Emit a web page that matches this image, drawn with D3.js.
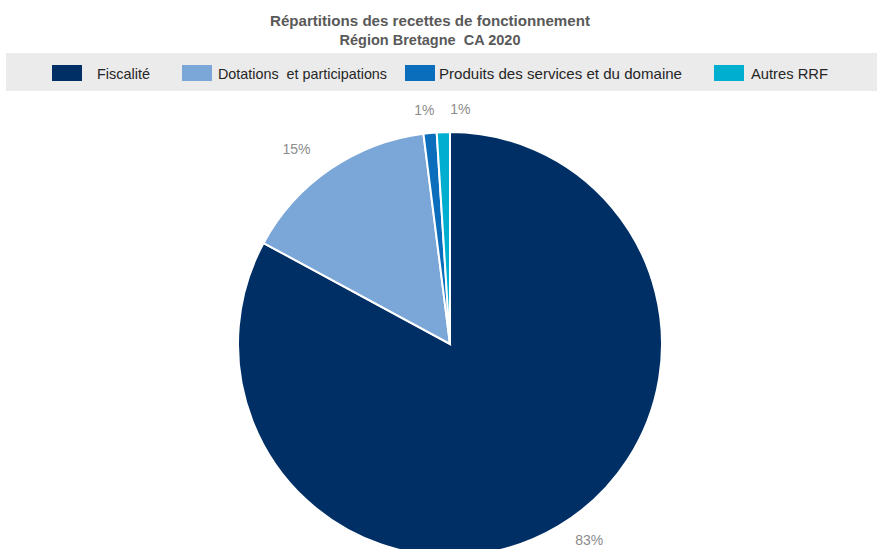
<!DOCTYPE html>
<html><head><meta charset="utf-8">
<script src="https://cdn.jsdelivr.net/npm/d3@7"></script>
<style>
html,body{margin:0;padding:0;background:#fff;}
svg{display:block;}
text{font-family:"Liberation Sans",Arial,sans-serif;}
</style></head>
<body>
<svg id="c" width="877" height="549"></svg>
<script>
const titleLines = ["Répartitions des recettes de fonctionnement", "Région Bretagne  CA 2020"];
const categories = ["Fiscalité", "Dotations  et participations", "Produits des services et du domaine", "Autres RRF"];
const values = [82.9, 15.1, 1.0, 1.0];
const colors = ["#002F66", "#7BA7D8", "#0A6EBD", "#00AFCF"];

const W = 877, H = 549;
const svg = d3.select("#c");

// Title (condensed look via textLength)
const titleW = [320, 181];
svg.append("g").selectAll("text").data(titleLines).join("text")
  .attr("x", 430).attr("y", (d, i) => 26 + i * 19)
  .attr("text-anchor", "middle")
  .attr("font-size", 15).attr("font-weight", "bold")
  .attr("fill", "#595959")
  .attr("textLength", (d, i) => titleW[i]).attr("lengthAdjust", "spacingAndGlyphs")
  .style("white-space", "pre")
  .text(d => d);

// Legend band
svg.append("rect").attr("x", 6).attr("y", 53).attr("width", W - 6).attr("height", 38).attr("fill", "#EBEBEB");
const legX = [52, 182, 405, 714];
const legTextX = [97, 218, 439, 751];
const legTextW = [53, 169, 243, 77];
const lg = svg.append("g").selectAll("g").data(categories).join("g");
lg.append("rect").attr("x", (d, i) => legX[i]).attr("y", 65)
  .attr("width", 30).attr("height", 16).attr("fill", (d, i) => colors[i]);
lg.append("text")
  .attr("x", (d, i) => legTextX[i]).attr("y", 79)
  .attr("font-size", 15).attr("fill", "#262626")
  .attr("textLength", (d, i) => legTextW[i]).attr("lengthAdjust", "spacingAndGlyphs")
  .style("white-space", "pre")
  .text(d => d);

// Pie
const cx = 450, cy = 344, r = 212;
const pie = d3.pie().sort(null).value(d => d)(values);
const arc = d3.arc().innerRadius(0).outerRadius(r);
const g = svg.append("g").attr("transform", `translate(${cx},${cy})`);
g.selectAll("path").data(pie).join("path")
  .attr("d", arc)
  .attr("fill", (d, i) => colors[i])
  .attr("stroke", "#fff").attr("stroke-width", 2);

// Labels
const total = d3.sum(values);
const LR = 228;
const labelArc = d3.arc().innerRadius(LR).outerRadius(LR);
const labels = pie.map((d, i) => {
  const [x, y] = labelArc.centroid(d);
  return { x: x + (x / LR) * 44, y: y < 0 ? y - 7 : y, t: Math.round(d.value / total * 100) + "%" };
});
for (let i = 1; i < labels.length; i++) {
  const a = labels[i - 1], b = labels[i];
  if (Math.abs(a.y - b.y) < 16 && Math.abs(a.x - b.x) < 36) b.x = a.x + 36;
}
g.selectAll("text.lbl").data(labels).join("text")
  .attr("class", "lbl")
  .attr("x", d => d.x).attr("y", d => d.y)
  .attr("text-anchor", "middle").attr("dominant-baseline", "central")
  .attr("font-size", 14).attr("fill", "#8C8C8C")
  .text(d => d.t);
</script>
</body></html>
